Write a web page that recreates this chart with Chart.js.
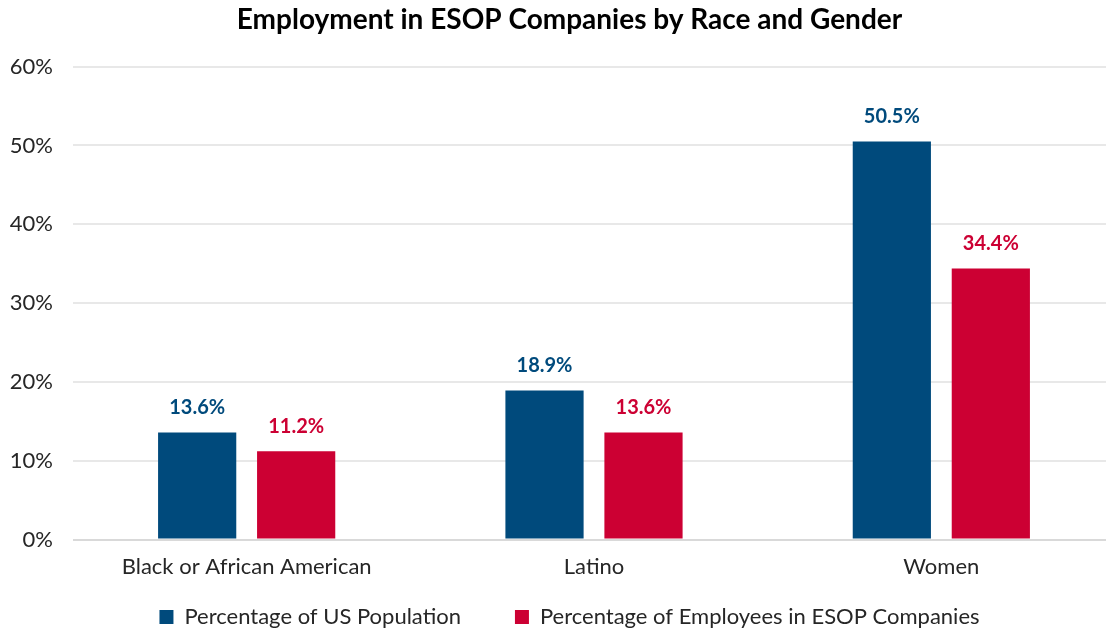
<!DOCTYPE html>
<html>
<head>
<meta charset="utf-8">
<script src="https://cdn.jsdelivr.net/npm/chart.js@4"></script>
<style>
  html, body { margin: 0; padding: 0; background: #fff; overflow: hidden; }
  #wrap { width: 1140px; height: 630px; }
</style>
</head>
<body>
<div id="wrap"><canvas id="esopChart" width="1140" height="630"></canvas></div>
<script>
// categories and series
var categories = ["Black or African American", "Latino", "Women"];
var usPopulation = [13.6, 18.9, 50.5];
var esopEmployees = [11.2, 13.6, 34.4];
var seriesNames = ["Percentage of US Population", "Percentage of Employees in ESOP Companies"];
var yTicks = [0, 10, 20, 30, 40, 50, 60];

var BLUE = "#004A7C";
var RED = "#CC0033";
var TEXT = "#262626";

// draws the value above each bar
var valueLabels = {
    id: "valueLabels",
    afterDatasetsDraw: function (chart) {
        var ctx = chart.ctx;
        ctx.save();
        ctx.font = "bold 20px Lato";
        ctx.textAlign = "center";
        ctx.textBaseline = "middle";
        chart.data.datasets.forEach(function (ds, i) {
            var meta = chart.getDatasetMeta(i);
            meta.data.forEach(function (bar, j) {
                ctx.fillStyle = ds.backgroundColor;
                ctx.fillText(ds.data[j].toFixed(1) + "%", bar.x, bar.y - 25);
            });
        });
        ctx.restore();
    }
};

// title and legend sit a bit right of the canvas centre in the reference
var shiftBlocks = {
    id: "shiftBlocks",
    afterLayout: function (chart) {
        if (chart.titleBlock) chart.titleBlock.left += 24;
        if (chart.legend) chart.legend.left += 24;
    }
};

new Chart("esopChart", {
    type: "bar",
    data: {
        labels: categories,
        datasets: [{
            label: seriesNames[0],
            backgroundColor: BLUE,
            data: usPopulation,
            categoryPercentage: 0.57,
            barPercentage: 0.79
        }, {
            label: seriesNames[1],
            backgroundColor: RED,
            data: esopEmployees,
            categoryPercentage: 0.57,
            barPercentage: 0.79
        }]
    },
    options: {
        responsive: false,
        animation: false,
        layout: { padding: { left: 0, right: 25, top: 3, bottom: -8 } },
        scales: {
            x: {
                grid: { display: false },
                border: { display: false },
                ticks: { color: TEXT, font: { family: "Lato", size: 22 }, padding: 6 },
                afterFit: function (axis) { axis.height += 10; }
            },
            y: {
                min: 0,
                max: 60,
                afterBuildTicks: function (axis) {
                    axis.ticks = yTicks.map(function (v) { return { value: v }; });
                },
                afterFit: function (axis) { axis.width = 73; },
                grid: {
                    drawTicks: false,
                    color: function (c) { return c.tick && c.tick.value === 0 ? "#d9d9d9" : "#e8e8e8"; },
                    lineWidth: 2
                },
                border: { display: false },
                ticks: {
                    color: TEXT,
                    font: { family: "Lato", size: 22 },
                    padding: 20,
                    callback: function (v) { return v + "%"; }
                }
            }
        },
        plugins: {
            title: {
                display: true,
                text: "Employment in ESOP Companies by Race and Gender",
                color: "#000",
                font: { family: "Lato", size: 28, weight: "bold" },
                padding: { top: 0, bottom: 30 }
            },
            legend: {
                position: "bottom",
                labels: {
                    color: TEXT,
                    font: { family: "Lato", size: 22 },
                    boxWidth: 14,
                    boxHeight: 14,
                    padding: 10,
                    generateLabels: function (chart) {
                        var items = Chart.defaults.plugins.legend.labels.generateLabels(chart);
                        // extra room after the first item, as in the reference
                        items[0].text = items[0].text + "\u2002\u2002\u2002\u2002";
                        return items;
                    }
                }
            },
            tooltip: { enabled: false }
        }
    },
    plugins: [valueLabels, shiftBlocks]
});
</script>
</body>
</html>
